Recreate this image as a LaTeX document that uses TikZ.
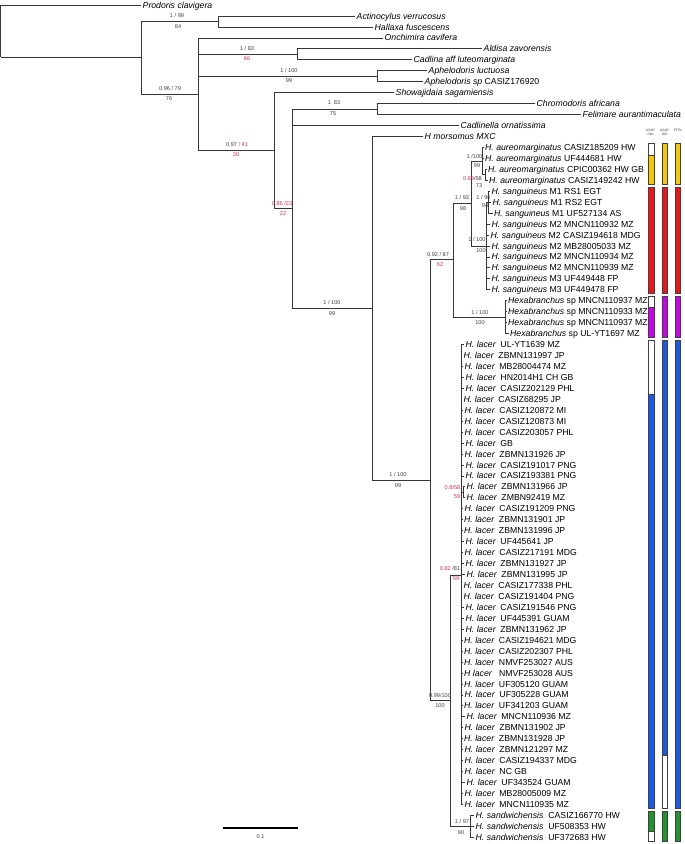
\documentclass[tikz,border=0pt]{standalone}
\usepackage{fontspec}
\setmainfont{Liberation Sans}
\definecolor{supred}{RGB}{225,45,85}
\definecolor{cyel}{RGB}{245,200,0}
\definecolor{cred}{RGB}{240,20,25}
\definecolor{cmag}{RGB}{205,0,240}
\definecolor{cblue}{RGB}{25,90,235}
\definecolor{cgreen}{RGB}{30,150,45}
\definecolor{brc}{RGB}{55,55,55}
\newcommand\leafnode[4]{\node[leaf] (#1) at (#2,{5+10.95*#3}) {#4};}
\newcommand\Hl{\textit{H. lacer}\hspace{4.5pt}}
\newcommand\Ha{\textit{H. aureomarginatus} }
\newcommand\Hs{\textit{H. sanguineus} }
\newcommand\Hx{\textit{Hexabranchus} sp }
\newcommand\Hw{\textit{H. sandwichensis}\hspace{5pt}}
\begin{document}
\begin{tikzpicture}[x=1pt,y=-1pt,
 br/.style={draw=brc, line width=0.7pt},
 leaf/.style={anchor=west, inner xsep=1.5pt, inner ysep=0pt, text height=6.2pt, text depth=0pt, font=\fontsize{8.7}{9}\selectfont},
 sv/.style={inner sep=0pt, font=\fontsize{5.6}{6}\selectfont, text=black!75},
 svr/.style={sv, text=supred},
 barbox/.style={draw=black!75, line width=0.5pt},
 hdr/.style={align=center, inner sep=0pt, font=\fontsize{3.3}{3.9}\selectfont, text=black!80}]
\useasboundingbox (0,0) rectangle (685,844);

% ---------- leaves ----------
\leafnode{prod}{141}{0}{\textit{Prodoris clavigera}}
\leafnode{act}{355}{1}{\textit{Actinocylus verrucosus}}
\leafnode{hal}{373}{2}{\textit{Hallaxa fuscescens}}
\leafnode{onc}{383}{3}{\textit{Onchimira cavifera}}
\leafnode{ald}{482}{4}{\textit{Aldisa zavorensis}}
\leafnode{cad}{412}{5}{\textit{Cadlina aff luteomarginata}}
\leafnode{aphl}{427}{6}{\textit{Aphelodoris luctuosa}}
\leafnode{aphs}{423}{7}{\textit{Aphelodoris sp} CASIZ176920}
\leafnode{sho}{394}{8}{\textit{Showajidaia sagamiensis}}
\leafnode{chr}{535}{9}{\textit{Chromodoris africana}}
\leafnode{fel}{581}{10}{\textit{Felimare aurantimaculata}}
\leafnode{cdl}{459}{11}{\textit{Cadlinella ornatissima}}
\leafnode{mor}{423}{12}{\textit{H morsomus MXC}}
\leafnode{au1}{483.5}{13}{\Ha CASIZ185209 HW}
\leafnode{au2}{483.5}{14}{\Ha UF444681 HW}
\leafnode{au3}{486.5}{15}{\Ha CPIC00362 HW GB}
\leafnode{au4}{487.5}{16}{\Ha CASIZ149242 HW}
\leafnode{sg1}{490}{17}{\Hs M1 RS1 EGT}
\leafnode{sg2}{491}{18}{\Hs M1 RS2 EGT}
\leafnode{sg3}{492.5}{19}{\Hs M1 UF527134 AS}
\leafnode{sg4}{490}{20}{\Hs M2 MNCN110932 MZ}
\leafnode{sg5}{489}{21}{\Hs M2 CASIZ194618 MDG}
\leafnode{sg6}{490}{22}{\Hs M2 MB28005033 MZ}
\leafnode{sg7}{490}{23}{\Hs M2 MNCN110934 MZ}
\leafnode{sg8}{490}{24}{\Hs M2 MNCN110939 MZ}
\leafnode{sg9}{490}{25}{\Hs M3 UF449448 FP}
\leafnode{sg10}{490}{26}{\Hs M3 UF449478 FP}
\leafnode{hx1}{506.5}{27}{\Hx MNCN110937 MZ}
\leafnode{hx2}{506.5}{28}{\Hx MNCN110933 MZ}
\leafnode{hx3}{506.5}{29}{\Hx MNCN110937 MZ}
\leafnode{hx4}{508.5}{30}{\Hx UL-YT1697 MZ}
\foreach \k/\xe/\pp/\id in {1/464/nh/UL-YT1639 MZ, 2/462/nh/ZBMN131997 JP, 3/463/nh/MB28004474 MZ,
  4/464/nh/HN2014H1 CH GB, 5/464/nh/CASIZ202129 PHL, 6/462/nh/CASIZ68295 JP, 7/463/nh/CASIZ120872 MI,
  8/463/nh/CASIZ120873 MI, 9/463/nh/CASIZ203057 PHL, 10/464/nh/GB, 11/463/nh/ZBMN131926 JP,
  12/464/nh/CASIZ191017 PNG, 13/464/nh/CASIZ193381 PNG, 14/465/nl/ZBMN131966 JP, 15/465/nl/ZMBN92419 MZ,
  16/463/nh/CASIZ191209 PNG, 17/462.5/nh/ZBMN131901 JP, 18/462.5/nh/ZBMN131996 JP, 19/464/nh/UF445641 JP,
  20/463/nh/CASIZ217191 MDG, 21/464/nh/ZBMN131927 JP, 22/465/nh/ZBMN131995 JP, 23/462/nh/CASIZ177338 PHL,
  24/462/nh/CASIZ191404 PNG, 25/464/nh/CASIZ191546 PNG, 26/464/nh/UF445391 GUAM, 27/464/nh/ZBMN131962 JP,
  28/462.5/nh/CASIZ194621 MDG, 29/462.5/nh/CASIZ202307 PHL, 30/462.5/nh/NMVF253027 AUS,
  32/462.5/nh/UF305120 GUAM, 33/463/nh/UF305228 GUAM, 34/462.5/nh/UF341203 GUAM, 35/465/nh/MNCN110936 MZ,
  36/463/nh/ZBMN131902 JP, 37/462.5/nh/ZBMN131928 JP, 38/463/nh/ZBMN121297 MZ, 39/463/nh/CASIZ194337 MDG,
  40/463/nh/NC GB, 41/465/nh/UF343524 GUAM, 42/463/nh/MB28005009 MZ, 43/463/nh/MNCN110935 MZ}{
  \node[leaf] (lac\k) at (\xe,{5+10.95*(30+\k)}) {\Hl\id};
}
\leafnode{lac31}{462.5}{61}{\textit{H lacer}\hspace{7pt}NMVF253028 AUS}
\leafnode{sw1}{474}{74}{\Hw CASIZ166770 HW}
\leafnode{sw2}{474}{75}{\Hw UF508353 HW}
\leafnode{sw3}{474}{76}{\Hw UF372683 HW}

% ---------- internal nodes ----------
\coordinate (root) at (0.5,57);
\coordinate (n1) at (141,57);
\coordinate (n2) at (218,21.5);
\coordinate (n3) at (198,94.2);
\coordinate (n4) at (297,54.3);
\coordinate (n5) at (377,76.2);
\coordinate (n6) at (274,150.5);
\coordinate (n7) at (292,208.5);
\coordinate (n8) at (377,109);
\coordinate (n9) at (372,308.2);
\coordinate (n10) at (430,480);
\coordinate (n11) at (453,259.5);
\coordinate (na) at (471,203.3);
\coordinate (nb) at (482,161);
\coordinate (nc) at (485,174.75);
\coordinate (nd) at (486,245.9);
\coordinate (ne) at (488,202.1);
\coordinate (nhx) at (505,316.9);
\coordinate (nf) at (450,700.6);
\coordinate (nh) at (461,575);
\coordinate (nl) at (463,492.3);
\coordinate (ng) at (470,826.3);

% ---------- branches ----------
\draw[br] (root) |- (prod.west);
\draw[br] (root) |- (n1);
\draw[br] (n1) |- (n2);
\draw[br] (n1) |- (n3);
\draw[br] (n2) |- (act.west);
\draw[br] (n2) |- (hal.west);
\draw[br] (n3) |- (onc.west);
\draw[br] (n3) |- (n4);
\draw[br] (n3) |- (n5);
\draw[br] (n3) |- (n6);
\draw[br] (n4) |- (ald.west);
\draw[br] (n4) |- (cad.west);
\draw[br] (n5) |- (aphl.west);
\draw[br] (n5) |- (aphs.west);
\draw[br] (n6) |- (sho.west);
\draw[br] (n6) |- (n7);
\draw[br] (n7) |- (n8);
\draw[br] (n7) |- (cdl.west);
\draw[br] (n7) |- (n9);
\draw[br] (n8) |- (chr.west);
\draw[br] (n8) |- (fel.west);
\draw[br] (n9) |- (mor.west);
\draw[br] (n9) |- (n10);
\draw[br] (n10) |- (n11);
\draw[br] (n10) |- (nf);
\draw[br] (n11) |- (na);
\draw[br] (n11) |- (nhx);
\draw[br] (na) |- (nb);
\draw[br] (na) |- (nd);
\draw[br] (nb) |- (au1.west);
\draw[br] (nb) |- (au2.west);
\draw[br] (nb) |- (nc);
\draw[br] (nc) |- (au3.west);
\draw[br] (nc) |- (au4.west);
\draw[br] (nd) |- (ne);
\foreach \s in {4,...,10}{\draw[br] (nd) |- (sg\s.west);}
\foreach \s in {1,2,3}{\draw[br] (ne) |- (sg\s.west);}
\foreach \s in {1,...,4}{\draw[br] (nhx) |- (hx\s.west);}
\draw[br] (nf) |- (nh);
\draw[br] (nf) |- (ng);
\foreach \s in {1,...,13,16,17,...,43}{\draw[br] (nh) |- (lac\s.west);}
\draw[br] (nh) |- (nl);
\draw[br] (nl) |- (lac14.west);
\draw[br] (nl) |- (lac15.west);
\foreach \s in {1,2,3}{\draw[br] (ng) |- (sw\s.west);}

% ---------- support values ----------
\node[sv] (s1a) at (177,15.5) {1 / 99};
\node[sv] (s1b) at (178,27) {84};
\node[sv] (s2a) at (247,48) {1 / 83};
\node[svr] (s2b) at (247,59) {66};
\node[sv] (s3a) at (289,70) {1 / 100};
\node[sv] (s3b) at (289,81) {99};
\node[sv] (s4a) at (170,88) {0.96 / 79};
\node[sv] (s4b) at (169,99) {76};
\node[sv] (s5a) at (237,144.5) {0.97 \textcolor{supred}{/ 41}};
\node[svr] (s5b) at (236,155) {30};
\node[svr] (s6a) at (282,203) {0.86 /23};
\node[svr] (s6b) at (283,213.5) {22};
\node[sv] (s7a) at (334,103) {1\hspace{3pt}83};
\node[sv] (s7b) at (333,113.5) {75};
\node[sv] (s8a) at (332,302.5) {1 / 100};
\node[sv] (s8b) at (332,313.5) {99};
\node[sv] (s9a) at (398,474.5) {1 / 100};
\node[sv] (s9b) at (398,486) {99};
\node[sv] (s10a) at (438,254.5) {0.92 / 87};
\node[svr] (s10b) at (440,265) {62};
\node[sv] (s11a) at (462,197.5) {1 / 93};
\node[sv] (s11b) at (463,208.5) {98};
\node[sv] (s12a) at (474.5,156) {1 /100};
\node[sv] (s12b) at (477,165.5) {99};
\node[sv] (s13a) at (472.5,178) {\textcolor{supred}{0.89}/98};
\node[sv] (s13b) at (479,185.5) {73};
\node[sv] (s14a) at (483.5,197) {1 / 96};
\node[sv] (s14b) at (485,206) {94};
\node[sv] (s15a) at (477,239.5) {1 / 100};
\node[sv] (s15b) at (481,250.5) {100};
\node[sv] (s16a) at (480,312) {1 / 100};
\node[sv] (s16b) at (480,322.5) {100};
\node[sv] (s17a) at (440,695) {0.99/100};
\node[sv] (s17b) at (440,705.5) {100};
\node[sv] (s18a) at (450,568.5) {\textcolor{supred}{0.82} /81};
\node[svr] (s18b) at (456,578.5) {59};
\node[svr] (s19a) at (452.5,487.5) {0.8/58};
\node[svr] (s19b) at (457,496.5) {59};
\node[sv] (s20a) at (462,821) {1 / 97};
\node[sv] (s20b) at (461,832.5) {90};

% ---------- scale bar ----------
\coordinate (sb1) at (223,828);
\coordinate (sb2) at (298,828);
\draw[line width=2pt, black] (sb1) -- (sb2);
\node[sv] (sbl) at (260.5,836.5) {0.1};

% ---------- delimitation bars ----------
\node[hdr] (h1) at (650.5,132.5) {ASAP\\COI};
\node[hdr] (h2) at (664.5,132.5) {ASAP\\16S};
\node[hdr] (h3) at (677.8,130.5) {PTPs};
% column 1 (ASAP COI)
\draw[barbox, fill=white] (648.3,143.4) rectangle (654,155);
\draw[barbox, fill=cyel] (648.3,155) rectangle (654,184.2);
\draw[barbox, fill=cred] (648.3,187.2) rectangle (654,293.7);
\draw[barbox, fill=white] (648.3,296.7) rectangle (654,307.5);
\draw[barbox, fill=cmag] (648.3,307.5) rectangle (654,337.5);
\draw[barbox, fill=white] (648.3,340.5) rectangle (654,393.8);
\draw[barbox, fill=cblue] (648.3,393.8) rectangle (654,808.4);
\draw[barbox, fill=cgreen] (648.3,811.3) rectangle (654,831);
\draw[barbox, fill=white] (648.3,831) rectangle (654,841.2);
% column 2 (ASAP 16S)
\draw[barbox, fill=cyel] (662,143.4) rectangle (667.5,184.2);
\draw[barbox, fill=cred] (662,187.2) rectangle (667.5,293.7);
\draw[barbox, fill=cmag] (662,296.7) rectangle (667.5,337.5);
\draw[barbox, fill=cblue] (662,340.5) rectangle (667.5,755.1);
\draw[barbox, fill=white] (662,755.1) rectangle (667.5,808.4);
\draw[barbox, fill=cgreen] (662,811.3) rectangle (667.5,841.2);
% column 3 (PTPs)
\draw[barbox, fill=cyel] (675,143.4) rectangle (680.5,184.2);
\draw[barbox, fill=cred] (675,187.2) rectangle (680.5,293.7);
\draw[barbox, fill=cmag] (675,296.7) rectangle (680.5,337.5);
\draw[barbox, fill=cblue] (675,340.5) rectangle (680.5,808.4);
\draw[barbox, fill=cgreen] (675,811.3) rectangle (680.5,841.2);
\end{tikzpicture}
\end{document}
